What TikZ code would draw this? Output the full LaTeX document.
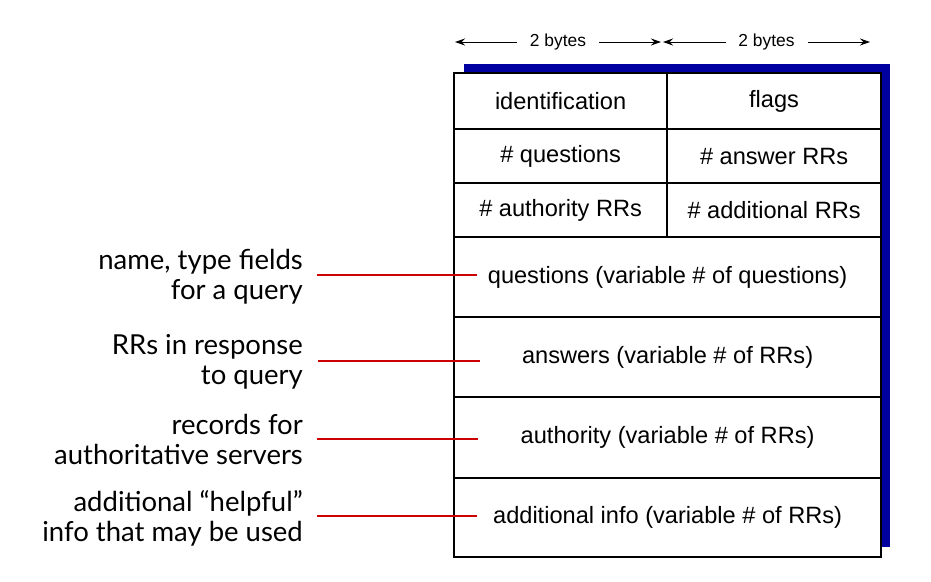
\documentclass[tikz,border=0pt]{standalone}
\usepackage{fontspec}
\setmainfont{Liberation Sans}
\newfontfamily\labfont{Lato}
\usetikzlibrary{arrows.meta}
\definecolor{shadowblue}{RGB}{0,0,160}
\definecolor{linered}{RGB}{204,0,0}
\tikzset{
  cell/.style={draw=black, line width=2.2pt, fill=white, inner sep=0pt, font=\fontsize{23.6}{28}\selectfont, anchor=north west},
  lab/.style={anchor=east, align=right, inner sep=0pt, font=\labfont\fontsize{27.5}{30}\selectfont},
  redline/.style={draw=linered, line width=2pt},
  dim/.style={line width=1pt, {Stealth[length=10pt,width=7pt]}-{Stealth[length=10pt,width=7pt]}},
  dimtext/.style={fill=white, inner sep=0pt, minimum width=82pt, font=\fontsize{17.4}{20}\selectfont}
}
\begin{document}
\begin{tikzpicture}[x=1pt,y=-1pt]
\useasboundingbox (0,0) rectangle (931,581);
% shadow
\fill[shadowblue] (464,64) rectangle (890,547);
% cells
\node[cell, minimum width=213pt, minimum height=56pt] (ident) at (453,72) {identification};
\node[cell, minimum width=214pt, minimum height=56pt] (flags) at (666,72) {flags};
\node[cell, minimum width=213pt, minimum height=54pt] (nq) at (453,128) {\# questions};
\node[cell, minimum width=214pt, minimum height=54pt] (na) at (666,128) {\# answer RRs};
\node[cell, minimum width=213pt, minimum height=54pt] (nau) at (453,182) {\# authority RRs};
\node[cell, minimum width=214pt, minimum height=54pt] (nad) at (666,182) {\# additional RRs};
\node[cell, minimum width=427pt, minimum height=80pt] (q) at (453,236) {questions (variable \# of questions)};
\node[cell, minimum width=427pt, minimum height=80pt] (ans) at (453,316) {answers (variable \# of RRs)};
\node[cell, minimum width=427pt, minimum height=81pt] (auth) at (453,396) {authority (variable \# of RRs)};
\node[cell, minimum width=427pt, minimum height=79pt] (add) at (453,477) {additional info (variable \# of RRs)};
% byte arrows
\coordinate (a1) at (455,42);
\coordinate (a2) at (661,42);
\coordinate (a3) at (663,42);
\coordinate (a4) at (870,42);
\draw[dim] (a1) -- (a2) node[midway, dimtext] (b1) {2 bytes};
\draw[dim] (a3) -- (a4) node[midway, dimtext] (b2) {2 bytes};
% left labels
\node[lab] (l1) at (303,277) {name, type fields\\for a query};
\node[lab] (l2) at (303,362) {RRs in response\\to query};
\node[lab] (l3) at (303,439) {records for\\authoritative servers};
\node[lab] (l4) at (303,518) {additional “helpful”\\info that may be used};
\coordinate (e1) at (477,275);
\coordinate (e2) at (480,361);
\coordinate (e3) at (478,439);
\coordinate (e4) at (477,516);
\draw[redline] (l1.east) ++(14,-2) -- (e1);
\draw[redline] (l2.east) ++(15,-1) -- (e2);
\draw[redline] (l3.east) ++(14,0) -- (e3);
\draw[redline] (l4.east) ++(14,-2) -- (e4);
\end{tikzpicture}
\end{document}
